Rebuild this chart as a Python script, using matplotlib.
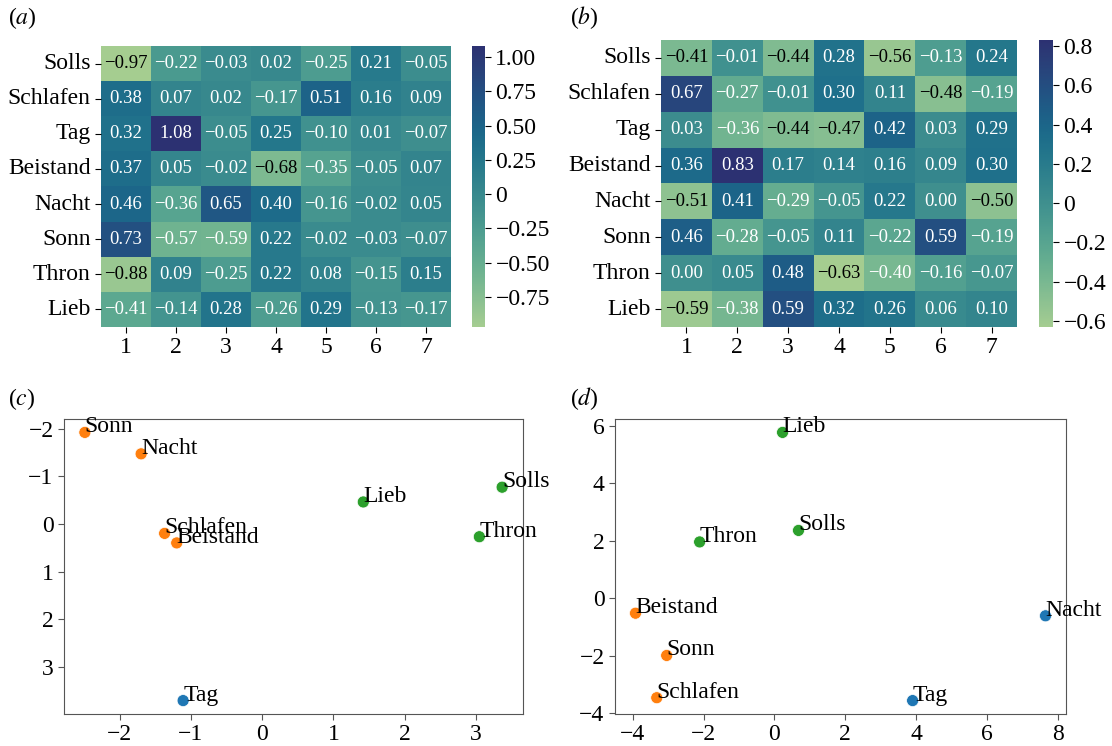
import numpy as np
import matplotlib
matplotlib.use('Agg')
import matplotlib.pyplot as plt
import matplotlib.ticker as mticker
import seaborn as sns

plt.rcParams['font.family'] = ['Liberation Serif', 'DejaVu Serif']
plt.rcParams['mathtext.fontset'] = 'stix'

# ---- data ----
words = ['Solls', 'Schlafen', 'Tag', 'Beistand', 'Nacht', 'Sonn', 'Thron', 'Lieb']
dims = ['1', '2', '3', '4', '5', '6', '7']

emb_a = np.array([
    [-0.97, -0.22, -0.03,  0.02, -0.25,  0.21, -0.05],
    [ 0.38,  0.07,  0.02, -0.17,  0.51,  0.16,  0.09],
    [ 0.32,  1.08, -0.05,  0.25, -0.10,  0.01, -0.07],
    [ 0.37,  0.05, -0.02, -0.68, -0.35, -0.05,  0.07],
    [ 0.46, -0.36,  0.65,  0.40, -0.16, -0.02,  0.05],
    [ 0.73, -0.57, -0.59,  0.22, -0.02, -0.03, -0.07],
    [-0.88,  0.09, -0.25,  0.22,  0.08, -0.15,  0.15],
    [-0.41, -0.14,  0.28, -0.26,  0.29, -0.13, -0.17],
])

emb_b = np.array([
    [-0.41, -0.01, -0.44,  0.28, -0.56, -0.13,  0.24],
    [ 0.67, -0.27, -0.01,  0.30,  0.11, -0.48, -0.19],
    [ 0.03, -0.36, -0.44, -0.47,  0.42,  0.03,  0.29],
    [ 0.36,  0.83,  0.17,  0.14,  0.16,  0.09,  0.30],
    [-0.51,  0.41, -0.29, -0.05,  0.22,  0.00, -0.50],
    [ 0.46, -0.28, -0.05,  0.11, -0.22,  0.59, -0.19],
    [ 0.00,  0.05,  0.48, -0.63, -0.40, -0.16, -0.07],
    [-0.59, -0.38,  0.59,  0.32,  0.26,  0.06,  0.10],
])

cbar_ticks_a = [-0.75, -0.5, -0.25, 0, 0.25, 0.5, 0.75, 1.0]
cbar_ticks_b = [-0.6, -0.4, -0.2, 0, 0.2, 0.4, 0.6, 0.8]

# 2d projections, order as in words
proj_c_x = [3.37, -1.37, -1.11, -1.20, -1.70, -2.49, 3.05, 1.42]
proj_c_y = [-0.77, 0.20, 3.71, 0.40, -1.47, -1.92, 0.27, -0.46]
clust_c = [2, 1, 0, 1, 1, 1, 2, 2]

proj_d_x = [0.68, -3.32, 3.90, -3.92, 7.65, -3.04, -2.11, 0.23]
proj_d_y = [2.36, -3.46, -3.56, -0.52, -0.61, -1.99, 1.96, 5.77]
clust_d = [2, 1, 0, 1, 0, 1, 2, 2]

clust_colors = ['tab:blue', 'tab:orange', 'tab:green']

W, H = 1112, 746


def box(x0, y0, x1, y1):
    return [x0 / W, 1 - y1 / H, (x1 - x0) / W, (y1 - y0) / H]


def fmt_num(v, nd):
    if abs(v) < 1e-9:
        return '0'
    return '{:.{}f}'.format(v, nd).replace('-', '\u2212')


def draw_heat(ax, cax, data, ticks, nd):
    sns.heatmap(data, ax=ax, cbar_ax=cax, cmap='crest', annot=False,
                xticklabels=dims, yticklabels=words)
    # annotate by hand: dark text only on the lightest cells
    lo, hi = data.min(), data.max()
    for i in range(data.shape[0]):
        for j in range(data.shape[1]):
            v = data[i, j]
            col = 'black' if (v - lo) / (hi - lo) < 0.155 else 'white'
            ax.text(j + 0.5, i + 0.5, '{:.2f}'.format(v).replace('-', '\u2212'),
                    ha='center', va='center', fontsize=13.5, color=col)
    ax.tick_params(labelsize=17, length=4)
    ax.set_yticklabels(words, rotation=0)
    ax.set_xticklabels(dims, rotation=0)
    cax.tick_params(labelsize=17, length=4)
    cax.set_yticks(ticks)
    cax.yaxis.set_major_formatter(mticker.FuncFormatter(lambda v, p: fmt_num(v, nd)))


def draw_proj(ax, xs, ys, cl, step):
    cols = [clust_colors[c] for c in cl]
    ax.scatter(xs, ys, c=cols, s=75, edgecolors='white', linewidths=0.5, zorder=3)
    for w, x, y in zip(words, xs, ys):
        ax.text(x, y, w, fontsize=17, ha='left', va='baseline', zorder=4)
    for sp in ax.spines.values():
        sp.set_color('#555555')
    ax.tick_params(labelsize=17, color='#555555', length=4)
    ax.xaxis.set_major_locator(mticker.MultipleLocator(step))
    ax.yaxis.set_major_locator(mticker.MultipleLocator(step))


fig = plt.figure(figsize=(W / 100, H / 100), dpi=100)

ax_a = fig.add_axes(box(101, 46, 451, 327))
cax_a = fig.add_axes(box(472, 46, 485, 327))
draw_heat(ax_a, cax_a, emb_a, cbar_ticks_a, 2)

ax_b = fig.add_axes(box(661, 40, 1017, 327))
cax_b = fig.add_axes(box(1039, 40, 1053, 327))
draw_heat(ax_b, cax_b, emb_b, cbar_ticks_b, 1)

ax_c = fig.add_axes(box(64, 419, 523, 714))
draw_proj(ax_c, proj_c_x, proj_c_y, clust_c, 1)
ax_c.invert_yaxis()

ax_d = fig.add_axes(box(615, 419, 1066, 714))
draw_proj(ax_d, proj_d_x, proj_d_y, clust_d, 2)

for lab, x, y in [('a', 8, 18), ('b', 570, 18), ('c', 8, 399), ('d', 570, 399)]:
    fig.text(x / W, 1 - y / H, '($' + lab + '$)', fontsize=17, va='center', ha='left')

fig.savefig('out.png', dpi=100)
